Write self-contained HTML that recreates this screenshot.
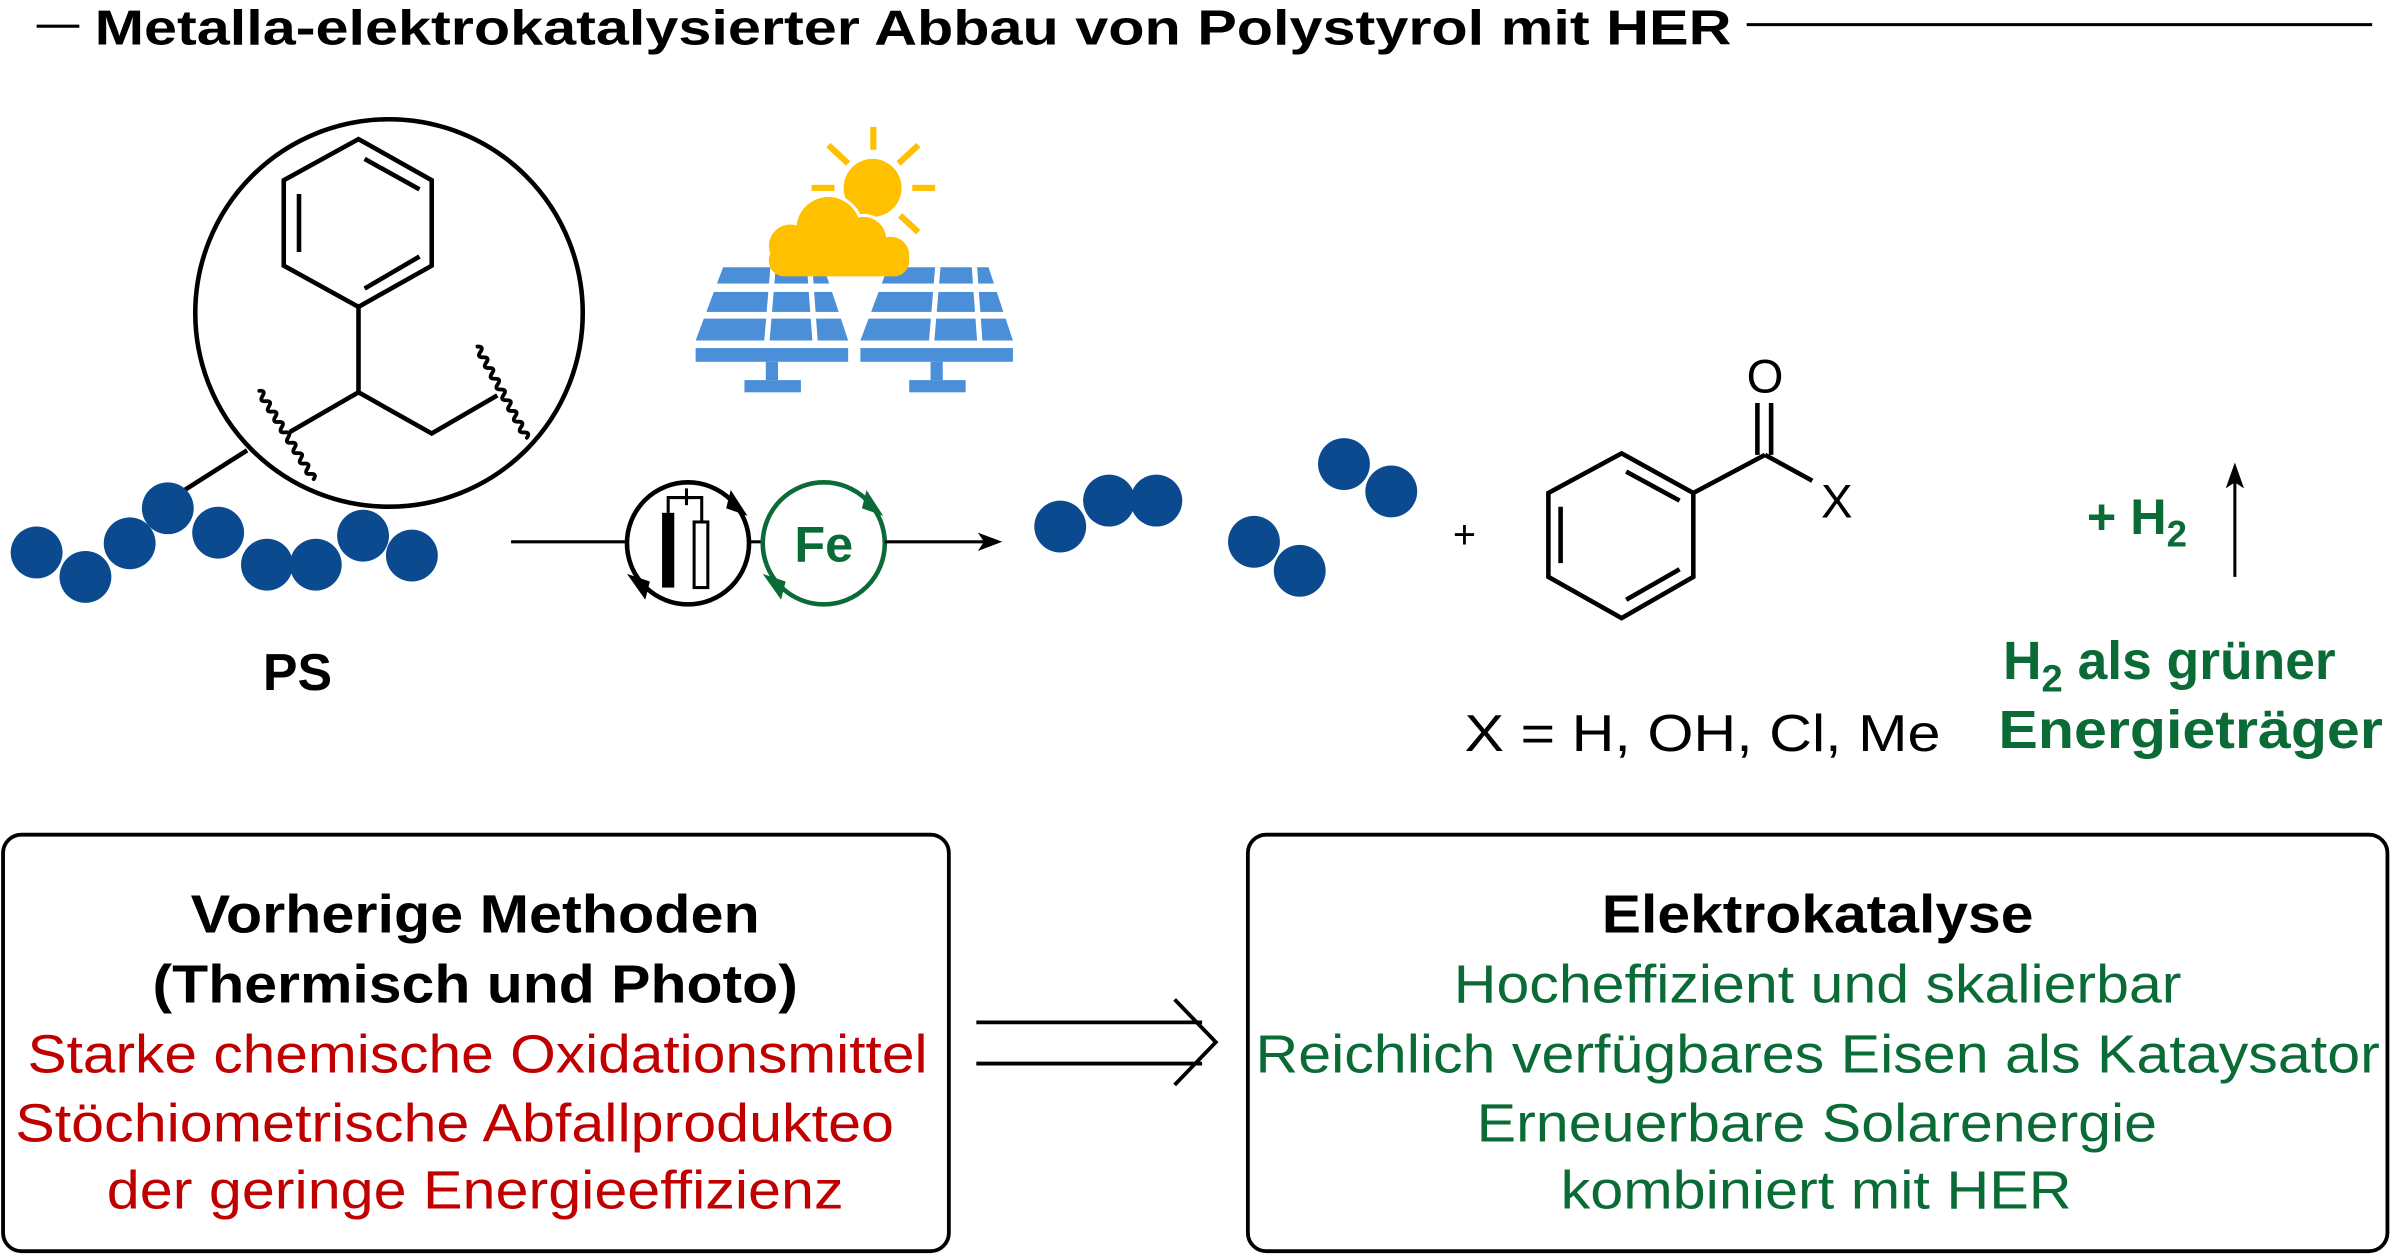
<!DOCTYPE html>
<html><head><meta charset="utf-8"><style>html,body{margin:0;padding:0;background:#fff}svg{display:block}</style></head><body>
<svg width="2392" height="1256" viewBox="0 0 1568 823" xmlns="http://www.w3.org/2000/svg" font-family="Liberation Sans, Arial, sans-serif">
<rect width="1568" height="823" fill="#fff"/>
<!-- title -->
<line x1="24" y1="17" x2="52" y2="17" stroke="#000" stroke-width="2"/>
<text x="62" y="29" font-size="32" font-weight="bold" textLength="1073" lengthAdjust="spacingAndGlyphs">Metalla-elektrokatalysierter Abbau von Polystyrol mit HER</text>
<line x1="1145" y1="16" x2="1555" y2="16" stroke="#000" stroke-width="2"/>

<!-- zoom circle -->
<g stroke="#000" stroke-width="3" fill="none">
<circle cx="255" cy="205" r="127"/>
<line x1="162" y1="295" x2="118" y2="323"/>
<polygon points="235,91 283,118 283,174 235,201 186,174 186,118"/>
<line x1="196" y1="127" x2="196" y2="165"/>
<line x1="239" y1="104" x2="275" y2="124"/>
<line x1="239" y1="189" x2="275" y2="168"/>
<line x1="235" y1="201" x2="235" y2="257"/>
<polyline points="190,283 235,257 283,284 326,259"/>
</g>
<g stroke="#000" stroke-width="2.5" fill="none" stroke-linecap="round">
<path transform="translate(170,256) rotate(58.4)" d="M0,0 q2,-4 4,0 t4,0 t4,0 t4,0 t4,0 t4,0 t4,0 t4,0 t4,0 t4,0 t4,0 t4,0 t4,0 t4,0 t4,0 t4,0 t4,0"/>
<path transform="translate(313,227) rotate(61.6)" d="M0,0 q2,-4 4,0 t4,0 t4,0 t4,0 t4,0 t4,0 t4,0 t4,0 t4,0 t4,0 t4,0 t4,0 t4,0 t4,0 t4,0 t4,0 t4,0"/>
</g>
<!-- beads PS -->
<g fill="#0b4a8f">
<circle cx="24" cy="362" r="17"/><circle cx="56" cy="378" r="17"/><circle cx="85" cy="356" r="17"/>
<circle cx="110" cy="333" r="17"/><circle cx="143" cy="349" r="17"/><circle cx="175" cy="370" r="17"/>
<circle cx="207" cy="370" r="17"/><circle cx="238" cy="351" r="17"/><circle cx="270" cy="364" r="17"/>
</g>
<text x="195" y="452" font-size="34" font-weight="bold" text-anchor="middle">PS</text>

<!-- solar panels -->
<g fill="#4a8fd8">
<polygon points="474,175 540,175 556,223 456,223"/>
<rect x="456" y="228" width="100" height="9"/><rect x="502" y="237" width="8" height="12"/><rect x="488" y="249" width="37" height="8"/>
<polygon points="582,175 648,175 664,223 564,223"/>
<rect x="564" y="228" width="100" height="9"/><rect x="610" y="237" width="8" height="12"/><rect x="596" y="249" width="37" height="8"/>
</g>
<g fill="#fff">
<rect x="450" y="185.7" width="220" height="5.5"/><rect x="450" y="204.3" width="220" height="4.4"/>
<polygon points="505,175 508.5,175 504.5,223 501,223"/><polygon points="529,175 532.5,175 536,223 532.5,223"/>
<polygon points="613,175 616.5,175 612.5,223 609,223"/><polygon points="637,175 640.5,175 644,223 640.5,223"/>
</g>
<!-- sun -->
<g fill="#ffc000">
<rect x="570.5" y="83" width="4" height="15"/>
<rect x="598" y="121" width="15" height="4"/>
<rect x="532" y="121" width="15" height="4"/>
<line x1="543" y1="95" x2="556" y2="107" stroke="#ffc000" stroke-width="4"/>
<line x1="602" y1="95" x2="589" y2="107" stroke="#ffc000" stroke-width="4"/>
<line x1="590" y1="141" x2="602" y2="152" stroke="#ffc000" stroke-width="4"/>
<circle cx="572" cy="123" r="19"/>
</g>
<g fill="#ffc000" stroke="#fff" stroke-width="4">
<circle cx="543" cy="150" r="21"/><circle cx="566" cy="157" r="15"/>
</g>
<g fill="#ffc000">
<circle cx="543" cy="150" r="21"/><circle cx="566" cy="157" r="15"/><circle cx="518" cy="161" r="14"/><circle cx="584" cy="167" r="12"/>
<rect x="504" y="160" width="92" height="21" rx="10"/>
</g>

<!-- reaction arrow -->
<line x1="335" y1="355" x2="411" y2="355" stroke="#000" stroke-width="2"/>
<circle cx="451" cy="356" r="40" fill="none" stroke="#000" stroke-width="3"/>
<polygon points="479,321 490,338 476,333" fill="#000"/>
<polygon points="423,393 411,376 426,381" fill="#000"/>
<rect x="434" y="336" width="8" height="49" fill="#000"/>
<rect x="455" y="342" width="9" height="43" fill="none" stroke="#000" stroke-width="2"/>
<polyline points="438,336 438,326 460,326 460,342" fill="none" stroke="#000" stroke-width="2"/>
<line x1="450" y1="320" x2="450" y2="331" stroke="#000" stroke-width="2"/>
<line x1="446" y1="326" x2="454" y2="326" stroke="#000" stroke-width="2"/>
<line x1="491" y1="355" x2="500" y2="355" stroke="#000" stroke-width="2"/>
<circle cx="540" cy="356" r="40" fill="none" stroke="#0b6b36" stroke-width="3"/>
<polygon points="568,321 579,338 565,333" fill="#0b6b36"/>
<polygon points="512,393 500,376 515,381" fill="#0b6b36"/>
<text x="540" y="368" font-size="33" font-weight="bold" fill="#0b6b36" text-anchor="middle">Fe</text>
<line x1="580" y1="355" x2="645" y2="355" stroke="#000" stroke-width="2"/>
<polygon points="657,355 641,349 645,355 641,361" fill="#000"/>

<!-- products -->
<g fill="#0b4a8f">
<circle cx="695" cy="345" r="17"/><circle cx="727" cy="328" r="17"/><circle cx="758" cy="328" r="17"/>
<circle cx="822" cy="355" r="17"/><circle cx="852" cy="374" r="17"/>
<circle cx="881" cy="304" r="17"/><circle cx="912" cy="322" r="17"/>
</g>
<text x="960" y="359" font-size="26" text-anchor="middle">+</text>
<g stroke="#000" stroke-width="3" fill="none">
<polygon points="1063,297 1110,323 1110,378 1063,405 1015,378 1015,323"/>
<line x1="1023" y1="332" x2="1023" y2="369"/>
<line x1="1066" y1="309" x2="1101" y2="328"/>
<line x1="1066" y1="393" x2="1101" y2="373"/>
<line x1="1110" y1="323" x2="1157" y2="298"/>
<line x1="1157" y1="298" x2="1188" y2="315"/>
<line x1="1152" y1="298" x2="1152" y2="264"/>
<line x1="1161" y1="298" x2="1161" y2="264"/>
</g>
<text x="1157" y="257" font-size="31" text-anchor="middle">O</text>
<text x="1204" y="339" font-size="31" text-anchor="middle">X</text>
<text x="960" y="492" font-size="34" textLength="312" lengthAdjust="spacingAndGlyphs">X = H, OH, Cl, Me</text>

<text x="1368" y="350" font-size="33" font-weight="bold" fill="#0b6b36">+ H<tspan font-size="24" dy="8">2</tspan></text>
<line x1="1465" y1="378" x2="1465" y2="316" stroke="#000" stroke-width="2"/>
<polygon points="1465,303 1459,320 1465,316 1471,320" fill="#000"/>
<text x="1313" y="445" font-size="35" font-weight="bold" fill="#0b6b36">H<tspan font-size="25" dy="8">2</tspan><tspan dy="-8"> als grüner</tspan></text>
<text x="1310" y="490" font-size="35" font-weight="bold" fill="#0b6b36" textLength="252" lengthAdjust="spacingAndGlyphs">Energieträger</text>

<!-- boxes -->
<rect x="2" y="547" width="620" height="273" rx="12" fill="none" stroke="#000" stroke-width="2.5"/>
<rect x="818" y="547" width="747" height="273" rx="12" fill="none" stroke="#000" stroke-width="2.5"/>
<g font-size="35">
<text x="125" y="611" font-weight="bold" textLength="373" lengthAdjust="spacingAndGlyphs">Vorherige Methoden</text>
<text x="100" y="657" font-weight="bold" textLength="423" lengthAdjust="spacingAndGlyphs">(Thermisch und Photo)</text>
<g fill="#c00000">
<text x="18" y="703" textLength="590" lengthAdjust="spacingAndGlyphs">Starke chemische Oxidationsmittel</text>
<text x="10" y="748" textLength="576" lengthAdjust="spacingAndGlyphs">Stöchiometrische Abfallprodukteo</text>
<text x="70" y="792" textLength="483" lengthAdjust="spacingAndGlyphs">der geringe Energieeffizienz</text>
</g>
<text x="1050" y="611" font-weight="bold" textLength="283" lengthAdjust="spacingAndGlyphs">Elektrokatalyse</text>
<g fill="#0b6b36">
<text x="953" y="657" textLength="477" lengthAdjust="spacingAndGlyphs">Hocheffizient und skalierbar</text>
<text x="823" y="703" textLength="737" lengthAdjust="spacingAndGlyphs">Reichlich verfügbares Eisen als Kataysator</text>
<text x="968" y="748" textLength="446" lengthAdjust="spacingAndGlyphs">Erneuerbare Solarenergie</text>
<text x="1023" y="792" textLength="335" lengthAdjust="spacingAndGlyphs">kombiniert mit HER</text>
</g>
</g>
<g stroke="#000" stroke-width="2.5" fill="none">
<line x1="640" y1="670" x2="788" y2="670"/>
<line x1="640" y1="697" x2="788" y2="697"/>
<polyline points="770,655 797,683 770,711"/>
</g>
</svg>
</body></html>
